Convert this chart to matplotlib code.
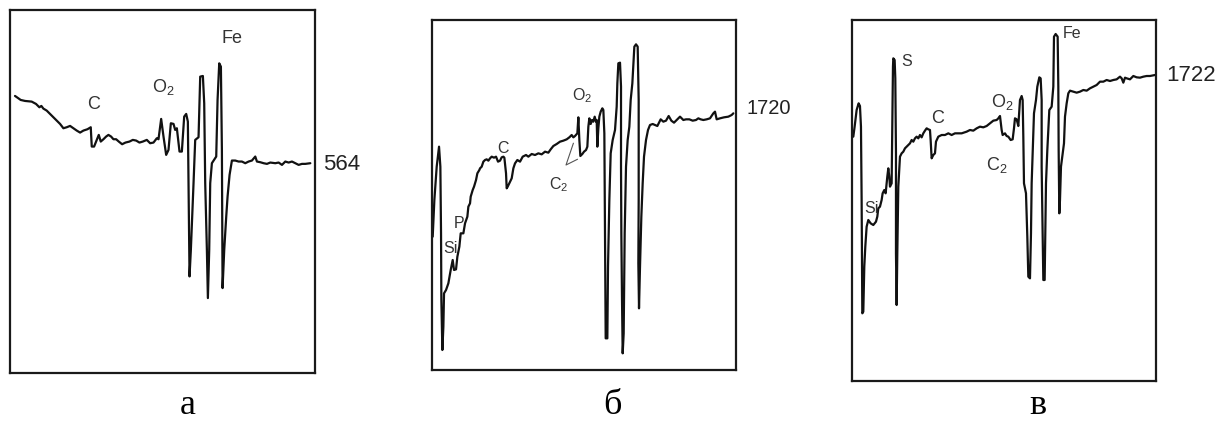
import matplotlib
matplotlib.use("Agg")
import matplotlib.pyplot as plt

plt.rcParams["font.family"] = ["Liberation Sans", "DejaVu Sans"]
plt.rcParams["mathtext.fontset"] = "custom"
plt.rcParams["mathtext.rm"] = "Liberation Sans"
plt.rcParams["mathtext.it"] = "Liberation Sans"

# --- spectrum а (scan channel, signal) ---
a_channel = [15, 25, 32, 45, 65, 78, 88, 94, 100, 110, 120, 130, 140, 150, 160, 170, 180, 190,
             200, 210, 220, 232, 242, 245, 252, 258, 266, 272, 280, 288, 295, 303, 310, 318,
             326, 336, 346, 358, 368, 378, 388, 398, 410, 420, 430, 440, 445, 453, 460, 468,
             475, 482, 490, 495, 500, 508, 515, 522, 528, 533, 538, 542, 550, 555, 565, 570,
             578, 582, 585, 590, 593, 597, 600, 605, 618, 622, 627, 632, 635, 637, 642, 648,
             652, 658, 665, 675, 685, 695, 705, 715, 725, 735, 740, 750, 760, 770, 780, 795,
             805, 815, 825, 835, 845, 855, 865, 875, 885, 900]
a_signal = [832, 825, 820, 817, 815, 808, 798, 802, 794, 788, 778, 768, 758, 748, 735, 738, 742, 735,
            728, 722, 728, 732, 738, 680, 680, 695, 715, 695, 702, 710, 715, 710, 702, 702,
            695, 687, 692, 695, 700, 698, 692, 695, 700, 690, 692, 705, 702, 763, 710, 655,
            670, 750, 748, 730, 735, 665, 665, 770, 778, 755, 290, 370, 570, 700, 708, 890,
            892, 810, 570, 370, 225, 370, 570, 630, 650, 820, 930, 920, 670, 255, 370, 470,
            530, 595, 638, 638, 635, 635, 630, 635, 638, 650, 635, 633, 630, 628, 632, 630,
            632, 625, 635, 632, 635, 630, 625, 628, 628, 630]

# --- spectrum б ---
b_channel = [3, 8, 15, 22, 26, 28, 29, 32, 35, 37, 43, 50, 57, 63, 67, 73, 77, 83, 87, 95, 100,
             107, 110, 115, 117, 123, 127, 133, 137, 143, 145, 150, 155, 160, 165, 170, 175,
             180, 187, 193, 199, 205, 210, 215, 218, 223, 225, 228, 235, 240, 245, 250, 257,
             265, 273, 283, 290, 300, 310, 320, 330, 340, 350, 357, 365, 375, 385, 395, 405,
             413, 420, 425, 430, 437, 440, 443, 446, 452, 457, 463, 467, 470, 473, 477, 481,
             485, 489, 493, 495, 497, 500, 503, 507, 512, 515, 518, 520, 522, 527, 529, 533,
             537, 543, 550, 555, 557, 560, 565, 568, 568, 569, 571, 573, 576, 579, 583, 588,
             593, 597, 602, 608, 613, 618, 621, 621, 620, 622, 625, 629, 633, 637, 643, 649,
             655, 663, 670, 677, 687, 695, 703, 711, 719, 727, 735, 745, 755, 763, 773, 783,
             793, 800, 807, 815, 825, 835, 845, 850, 855, 865, 877, 890, 900, 905]
b_signal = [400, 510, 610, 670, 610, 410, 210, 60, 130, 230, 240, 260, 300, 330, 300, 302, 340,
            370, 410, 410, 440, 460, 490, 500, 520, 540, 550, 570, 590, 600, 605, 610, 625, 630,
            632, 628, 635, 640, 637, 640, 625, 628, 638, 640, 637, 590, 545, 550, 565, 575,
            605, 620, 630, 625, 640, 645, 640, 648, 645, 650, 647, 655, 652, 662, 672, 678,
            685, 688, 692, 698, 705, 698, 702, 710, 758, 690, 642, 648, 655, 660, 670, 730,
            755, 738, 750, 745, 760, 745, 750, 670, 725, 760, 775, 785, 780, 710, 410, 95, 95,
            310, 510, 650, 690, 720, 790, 860, 920, 922, 850, 610, 410, 210, 50, 110, 410, 610,
            690, 730, 810, 860, 970, 977, 970, 810, 510, 320, 185, 310, 460, 560, 640, 690,
            720, 735, 738, 735, 732, 752, 745, 748, 762, 748, 742, 750, 760, 750, 752, 752,
            748, 750, 755, 752, 750, 752, 755, 770, 775, 752, 755, 758, 760, 765, 770]

# --- spectrum в ---
c_channel = [3, 7, 13, 19, 23, 26, 28, 29, 30, 33, 36, 39, 43, 48, 55, 63, 71, 75, 78, 83, 88,
             91, 96, 100, 105, 108, 111, 113, 118, 120, 122, 123, 127, 129, 131, 131, 133, 135,
             138, 143, 148, 153, 158, 163, 168, 173, 178, 183, 188, 193, 198, 203, 208, 213,
             218, 223, 228, 233, 235, 238, 243, 248, 251, 258, 268, 278, 288, 298, 308, 318,
             328, 343, 353, 363, 373, 383, 393, 403, 413, 423, 433, 438, 443, 448, 451, 458,
             463, 468, 475, 481, 485, 488, 493, 498, 503, 508, 511, 513, 515, 521, 525, 528,
             533, 536, 538, 541, 545, 551, 555, 561, 565, 568, 568, 571, 573, 577, 579, 581,
             585, 588, 591, 598, 603, 605, 610, 616, 618, 619, 621, 623, 626, 631, 635, 638,
             643, 648, 653, 663, 673, 683, 693, 703, 713, 723, 733, 743, 753, 763, 773, 783,
             793, 803, 808, 813, 818, 823, 833, 843, 853, 863, 873, 883, 893, 908]
c_signal = [733, 763, 813, 833, 825, 763, 543, 343, 203, 208, 343, 403, 463, 483, 473, 468, 478,
            493, 518, 523, 543, 563, 573, 563, 613, 638, 613, 583, 593, 783, 943, 968, 963, 908,
            683, 383, 228, 383, 583, 673, 683, 688, 698, 703, 708, 713, 723, 718, 728, 733, 728,
            738, 731, 743, 751, 758, 755, 753, 723, 668, 678, 683, 718, 733, 738, 738, 743, 738,
            743, 743, 743, 748, 753, 751, 758, 763, 761, 765, 773, 781, 783, 788, 795, 753, 738,
            743, 735, 733, 723, 725, 758, 788, 785, 765, 843, 855, 843, 733, 593, 563, 433, 313,
            308, 443, 593, 683, 803, 843, 883, 911, 908, 843, 643, 443, 303, 303, 443, 593, 693,
            753, 813, 823, 883, 1033, 1041, 1033, 883, 693, 503, 543, 643, 683, 713, 793, 833,
            863, 871, 868, 865, 868, 873, 871, 878, 883, 888, 898, 898, 903, 900, 903, 905, 913,
            908, 895, 910, 908, 905, 915, 911, 910, 913, 915, 915, 918]

panel_letters = ["а", "б", "в"]
end_values = ["564", "1720", "1722"]

fig = plt.figure(figsize=(12.24, 4.21), dpi=100)
W, H = 1224.0, 421.0

def make_axes(left, top, right, bottom, xmax, ymax):
    ax = fig.add_axes([left / W, 1 - bottom / H, (right - left) / W, (bottom - top) / H])
    ax.set_xlim(0, xmax)
    ax.set_ylim(0, ymax)
    ax.set_xticks([])
    ax.set_yticks([])
    for s in ax.spines.values():
        s.set_linewidth(1.6)
        s.set_color("#1a1a1a")
    return ax

line_kw = dict(color="#111111", lw=1.6, solid_joinstyle="round", solid_capstyle="round")
lab = dict(fontsize=13, color="#333333", ha="left", va="baseline")

# а
ax1 = make_axes(10, 9.7, 315, 373, 914, 1091)
ax1.plot(a_channel, a_signal, **line_kw)
ax1.text(232, 793, "C", **lab)
ax1.text(425, 845, r"O$_\mathregular{2}$", **lab)
ax1.text(635, 992, "Fe", **lab)
ax1.text(938, 610, end_values[0], fontsize=16, color="#222222", ha="left", va="baseline", clip_on=False)

# б
ax2 = make_axes(431.7, 20, 736, 370, 913, 1050)
ax2.plot(b_channel, b_signal, **line_kw)
lab_s = dict(lab, fontsize=11.5)
ax2.text(198, 652, "C", **lab_s)
ax2.text(420, 810, r"O$_\mathregular{2}$", **lab_s)
ax2.text(352, 542, r"C$_\mathregular{2}$", **lab_s)
ax2.text(65, 425, "P", **lab_s)
ax2.text(35, 350, "Si", **lab_s)
ax2.plot([425, 403, 437], [680, 615, 632], color="#555555", lw=0.8)
ax2.text(945, 767, end_values[1], fontsize=14.5, color="#222222", ha="left", va="baseline", clip_on=False)

# в
ax3 = make_axes(852.3, 20, 1156, 381, 911, 1083)
ax3.plot(c_channel, c_signal, **line_kw)
ax3.text(148, 945, "S", **lab_s)
ax3.text(630, 1028, "Fe", **lab_s)
ax3.text(235, 773, "C", **lab)
ax3.text(415, 823, r"O$_\mathregular{2}$", **lab)
ax3.text(400, 633, r"C$_\mathregular{2}$", **lab)
ax3.text(36, 503, "Si", **lab_s)
ax3.text(943, 900, end_values[2], fontsize=16, color="#222222", ha="left", va="baseline", clip_on=False)

# panel letters
for x, letter in zip([188, 612, 1038], panel_letters):
    fig.text(x / W, 1 - 414 / H, letter, fontsize=26, family="Liberation Serif",
             ha="center", va="baseline", color="black")

fig.savefig("out.png", dpi=100)
